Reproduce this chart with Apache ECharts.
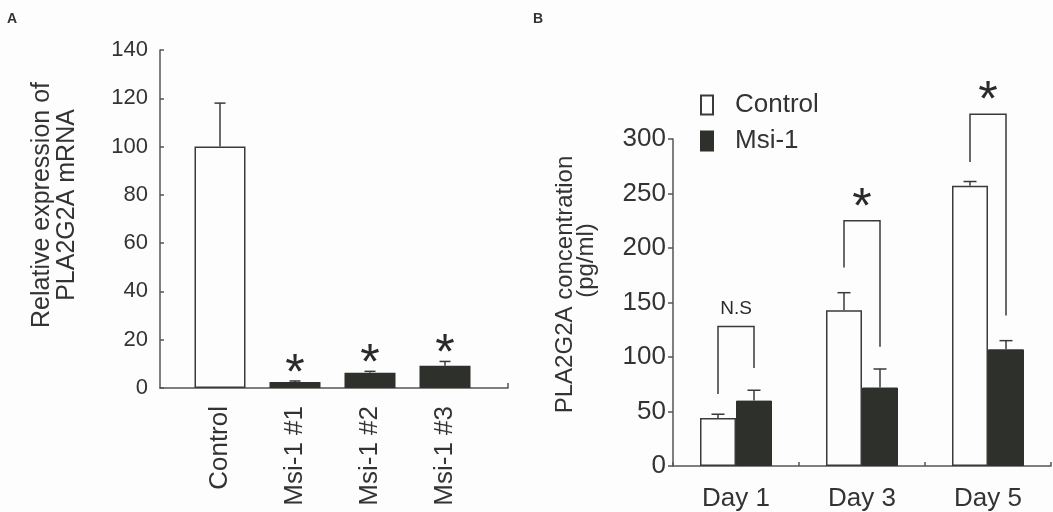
<!DOCTYPE html>
<html><head><meta charset="utf-8">
<script src="https://cdn.jsdelivr.net/npm/echarts@6/dist/echarts.min.js"></script>
<style>html,body{margin:0;padding:0;background:#fdfdfd}#c{width:1053px;height:512px}</style>
</head><body><div id="c"></div>
<script>
// Panel A data
const catsA = ['Control', 'Msi-1 #1', 'Msi-1 #2', 'Msi-1 #3'];
const valsA = [100, 2.5, 6.3, 9.2];
const errA = [18, 0.4, 0.6, 1.8];
const sigA = ['', '*', '*', '*'];
const ticksA = [0, 20, 40, 60, 80, 100, 120, 140];
// Panel B data
const days = ['Day 1', 'Day 3', 'Day 5'];
const ctrl = [44, 143, 257];
const ctrlErr = [3.5, 16, 4];
const msi = [60, 72, 107];
const msiErr = [9.5, 17, 8];
const brLeft = [66, 182, 279];
const brRight = [90, 109.5, 138];
const brTop = [128, 225, 322.6];
const sigB = ['N.S', '*', '*'];
const ticksB = [0, 50, 100, 150, 200, 250, 300];

const FONT = "'Liberation Sans', Arial, sans-serif";
const TXT = '#333';
const AX = '#555';
const DARK = '#2e302b';
const HALF = 18; // half bar width in panel B

const chart = echarts.init(document.getElementById('c'));

function errItem(params, api) {
  const x = api.value(0), lo = api.value(1), hi = api.value(2), side = api.value(3);
  const pLo = api.coord([x, lo]), pHi = api.coord([x, hi]);
  const cx = pLo[0] + side * HALF;
  return {type: 'group', children: [
    {type: 'line', shape: {x1: cx, y1: pLo[1], x2: cx, y2: pHi[1]}, style: {stroke: '#3a3a3a', lineWidth: 1.5}},
    {type: 'line', shape: {x1: cx - 6.5, y1: pHi[1], x2: cx + 6.5, y2: pHi[1]}, style: {stroke: '#3a3a3a', lineWidth: 1.5}}
  ]};
}

const option = {
  backgroundColor: '#fdfdfd',
  animation: false,
  textStyle: {fontFamily: FONT, color: TXT},
  title: [
    {text: 'A', left: 7, top: 12, padding: 0, textStyle: {fontSize: 14, fontWeight: 'bold', color: TXT, fontFamily: FONT}},
    {text: 'B', left: 533, top: 12, padding: 0, textStyle: {fontSize: 14, fontWeight: 'bold', color: TXT, fontFamily: FONT}}
  ],
  legend: {
    data: ['Control', 'Msi-1'], orient: 'vertical', left: 700, top: 92, padding: 0,
    itemWidth: 12, itemHeight: 19, itemGap: 10, icon: 'rect',
    textStyle: {fontSize: 26, color: TXT, fontFamily: FONT, lineHeight: 26, padding: [0, 0, 0, 17]}
  },
  grid: [
    {left: 160, top: 50, width: 348, height: 338},
    {left: 673, top: 139, width: 378, height: 327}
  ],
  xAxis: [
    {type: 'value', gridIndex: 0, min: -0.8, max: 3.84,
     axisLine: {show: true, onZero: false, lineStyle: {color: AX, width: 1.5}},
     splitLine: {show: false},
     axisTick: {show: true, inside: true, length: 5, customValues: [3.84], lineStyle: {color: AX, width: 1.5}},
     axisLabel: {customValues: [0, 1, 2, 3], rotate: 90, margin: 18, fontSize: 26, color: TXT, fontFamily: FONT,
                 formatter: v => catsA[Math.round(v)]}},
    {type: 'category', gridIndex: 1, data: days,
     axisLine: {onZero: false, lineStyle: {color: AX, width: 1.5}},
     axisTick: {show: true, inside: true, length: 4, lineStyle: {color: AX, width: 1.5}},
     axisLabel: {fontSize: 26, margin: 20, color: TXT, fontFamily: FONT}}
  ],
  yAxis: [
    {type: 'value', gridIndex: 0, min: 0, max: 140, interval: 20,
     axisLine: {show: true, onZero: false, lineStyle: {color: AX, width: 1.5}},
     axisTick: {show: true, inside: true, length: 4, lineStyle: {color: AX, width: 1.5}},
     splitLine: {show: false},
     axisLabel: {fontSize: 22, margin: 12, color: TXT, fontFamily: FONT, formatter: v => ticksA.includes(v) ? String(v) : ''},
     name: 'Relative expression of\nPLA2G2A mRNA', nameLocation: 'middle', nameGap: 80, nameRotate: 90,
     nameTextStyle: {fontSize: 25, lineHeight: 25, color: TXT, fontFamily: FONT, padding: [0, 0, 0, 28]}},
    {type: 'value', gridIndex: 1, min: 0, max: 300, interval: 50,
     axisLine: {show: true, onZero: false, lineStyle: {color: AX, width: 1.5}},
     axisTick: {show: true, inside: false, length: 5, lineStyle: {color: AX, width: 1.5}},
     splitLine: {show: false},
     axisLabel: {fontSize: 26, margin: 7, color: TXT, fontFamily: FONT, formatter: v => ticksB.includes(v) ? String(v) : ''},
     name: '{a|PLA2G2A concentration}\n{b|(pg/ml)}', nameLocation: 'middle', nameGap: 76, nameRotate: 90,
     nameTextStyle: {fontSize: 24, lineHeight: 21, color: TXT, fontFamily: FONT, padding: [0, 0, 0, 36],
       rich: {a: {fontSize: 24, lineHeight: 21, fontFamily: FONT, color: TXT},
              b: {fontSize: 24, lineHeight: 21, fontFamily: FONT, color: TXT, padding: [0, 0, 0, 48]}}}}
  ],
  series: [
    {type: 'bar', name: 'A', xAxisIndex: 0, yAxisIndex: 0, barWidth: 51,
     data: valsA.map((v, i) => ({value: [i, v], itemStyle: i === 0
        ? {color: '#fdfdfd', borderColor: '#3a3a3a', borderWidth: 1.5}
        : {color: DARK}}))},
    {type: 'custom', xAxisIndex: 0, yAxisIndex: 0, z: 5,
     data: valsA.map((v, i) => [i, v, v + errA[i]]),
     renderItem: function (params, api) {
       const i = api.value(0);
       const pLo = api.coord([i, api.value(1)]), pHi = api.coord([i, api.value(2)]);
       const s = sigA[params.dataIndex];
       const ch = [
         {type: 'line', shape: {x1: pLo[0], y1: pLo[1], x2: pHi[0], y2: pHi[1]}, style: {stroke: '#3a3a3a', lineWidth: 1.5}},
         {type: 'line', shape: {x1: pHi[0] - 5.5, y1: pHi[1], x2: pHi[0] + 5.5, y2: pHi[1]}, style: {stroke: '#3a3a3a', lineWidth: 1.5}}
       ];
       if (s) ch.push({type: 'text', style: {text: s, x: pHi[0], y: pHi[1] - 18 + 12, align: 'center', verticalAlign: 'middle',
                        font: '50px ' + FONT, fill: '#2a2a2a'}});
       return {type: 'group', children: ch};
     }},
    {type: 'bar', name: 'Control', xAxisIndex: 1, yAxisIndex: 1, barWidth: 36, barGap: '0%',
     itemStyle: {color: '#fdfdfd', borderColor: '#3a3a3a', borderWidth: 1.5},
     data: ctrl},
    {type: 'bar', name: 'Msi-1', xAxisIndex: 1, yAxisIndex: 1, barWidth: 36, barGap: '0%',
     itemStyle: {color: DARK, borderColor: DARK, borderWidth: 1},
     data: msi},
    {type: 'custom', xAxisIndex: 1, yAxisIndex: 1, z: 5,
     data: days.map((d, i) => [i, ctrl[i], ctrl[i] + ctrlErr[i], -1])
       .concat(days.map((d, i) => [i, msi[i], msi[i] + msiErr[i], 1])),
     renderItem: errItem},
    {type: 'custom', xAxisIndex: 1, yAxisIndex: 1, z: 5, clip: false,
     data: days.map((d, i) => [i, brLeft[i], brRight[i], brTop[i]]),
     renderItem: function (params, api) {
       const i = api.value(0);
       const c = api.coord([i, 0])[0];
       const yl = api.coord([i, api.value(1)])[1];
       const yr = api.coord([i, api.value(2)])[1];
       const yt = api.coord([i, api.value(3)])[1];
       const s = sigB[params.dataIndex];
       const isStar = s === '*';
       return {type: 'group', children: [
         {type: 'polyline', shape: {points: [[c - HALF, yl], [c - HALF, yt], [c + HALF, yt], [c + HALF, yr]]},
          style: {stroke: '#3a3a3a', lineWidth: 1.5, fill: null}},
         {type: 'text', style: {text: s, x: c, y: isStar ? yt - 24 + 12 : yt - 18, align: 'center', verticalAlign: 'middle',
          font: (isStar ? '50px ' : '19px ') + FONT, fill: '#2a2a2a'}}
       ]};
     }}
  ]
};
chart.setOption(option);
</script></body></html>
